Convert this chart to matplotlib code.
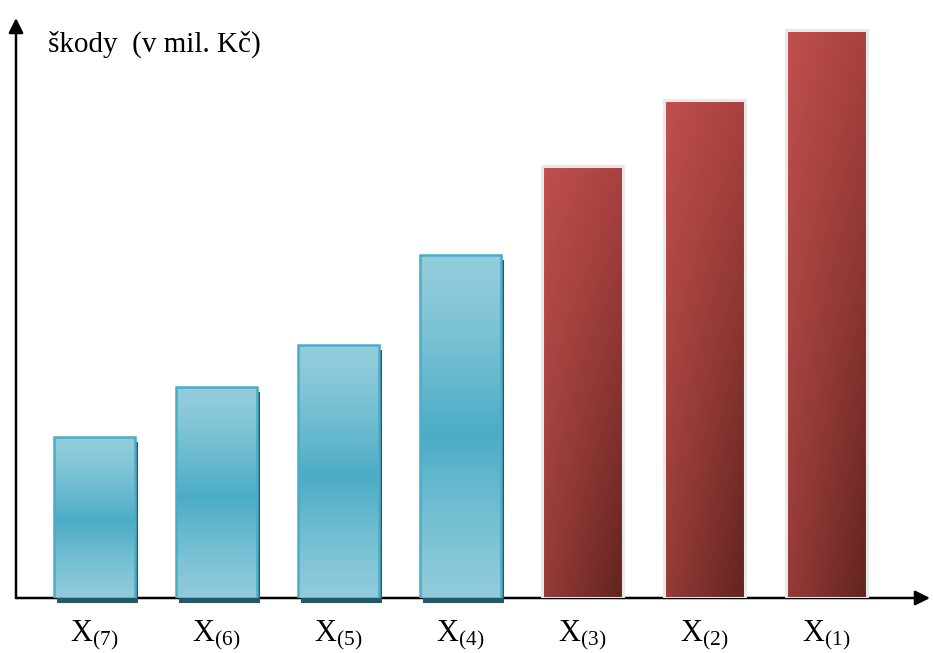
import numpy as np
import matplotlib.pyplot as plt
import matplotlib.transforms as mtransforms
from matplotlib.colors import to_rgb

plt.rcParams['mathtext.fontset'] = 'custom'
plt.rcParams['mathtext.rm'] = 'Liberation Serif'
plt.rcParams['mathtext.it'] = 'Liberation Serif'

# damages sorted from smallest to largest (order statistics)
labels = ['X$_{(7)}$', 'X$_{(6)}$', 'X$_{(5)}$', 'X$_{(4)}$', 'X$_{(3)}$', 'X$_{(2)}$', 'X$_{(1)}$']
values = [16.1, 21.1, 25.3, 34.3, 43.2, 49.8, 56.8]
is_top = [False, False, False, False, True, True, True]

W, H = 933, 653
fig = plt.figure(figsize=(W / 100, H / 100), dpi=100)
ax = fig.add_axes([16 / W, 55 / H, (930 - 16) / W, (598 - 18) / H])

x = np.arange(len(values))
width = 0.66

# blue: light at the ends, darker band a bit below the middle
light = np.array(to_rgb('#93CDDC'))
dark = np.array(to_rgb('#4BACC6'))
t = np.linspace(0, 1, 256)[:, None]
w = np.clip(1 - np.abs(t - 0.52) / 0.52, 0, 1) ** 1.3
blue_grad = (light + (dark - light) * w)[:, None, :]

# red: diagonal darkening towards the bottom right
c00, c01 = np.array(to_rgb('#C0504D')), np.array(to_rgb('#A8413F'))
c10, c11 = np.array(to_rgb('#963B39')), np.array(to_rgb('#62241F'))
u = np.linspace(0, 1, 64)[None, :, None]
v = np.linspace(0, 1, 256)[:, None, None]
red_grad = (c00 * (1 - u) * (1 - v) + c01 * u * (1 - v)
            + c10 * (1 - u) * v + c11 * u * v)

shadow = ax.transData + mtransforms.ScaledTranslation(3 / 100, -5 / 100, fig.dpi_scale_trans)

for xi, val, top in zip(x, values, is_top):
    x0, x1 = xi - width / 2, xi + width / 2
    if top:
        ax.imshow(red_grad, extent=(x0, x1, 0, val), aspect='auto',
                  interpolation='bilinear', zorder=3)
        ax.bar(xi, val, width=width, facecolor='none', edgecolor='#E8E8E8',
               linewidth=2.2, zorder=4)
    else:
        ax.bar(xi, val, width=width, color='#215968', zorder=2,
               transform=shadow, clip_on=False)
        ax.imshow(blue_grad, extent=(x0, x1, 0, val), aspect='auto',
                  interpolation='bilinear', zorder=3)
        ax.bar(xi, val, width=width, facecolor='none', edgecolor='#4BACC6',
               linewidth=1.8, zorder=4)

for xi, lab in zip(x, labels):
    ax.text(xi, -4.3, lab, ha='center', va='baseline', fontsize=22,
            family='Liberation Serif')

ax.set_xlim((16 - 94.4) / 122, (930 - 94.4) / 122)
ax.set_ylim(0, 58)
ax.axis('off')

# axis arrows
arrow = dict(arrowstyle='-|>', lw=1.8, color='black', mutation_scale=22, shrinkA=0, shrinkB=0)
ax.annotate('', xy=(1, 0), xytext=(0, 0), xycoords='axes fraction', arrowprops=arrow, zorder=1)
ax.annotate('', xy=(0, 1), xytext=(0, 0), xycoords='axes fraction', arrowprops=arrow, zorder=1)

fig.text(48 / W, 1 - 52 / H, 'škody  (v mil. Kč)', ha='left', va='baseline',
         fontsize=21, family='Liberation Serif')

fig.savefig('out.png', dpi=100)
